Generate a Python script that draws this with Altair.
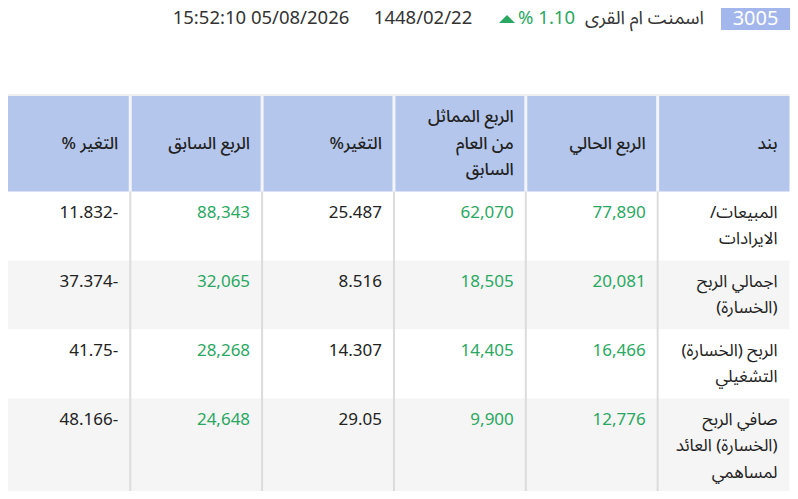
import altair as alt
import pandas as pd

# ---------------- data ----------------
ticker = "3005"
company = "اسمنت ام القرى"
change_pct = "% 1.10"
hijri_date = "1448/02/22"
timestamp = "15:52:10 05/08/2026"

# columns listed right-to-left (as read)
headers = ["بند", "الربع الحالي", "الربع المماثل\nمن العام\nالسابق", "التغير%", "الربع السابق", "التغير %"]
items = ["المبيعات/\nالايرادات", "اجمالي الربح\n(الخسارة)", "الربح (الخسارة)\nالتشغيلي",
         "صافي الربح\n(الخسارة) العائد\nلمساهمي\nالمصدر"]
current_q = ["77,890", "20,081", "16,466", "12,776"]
same_q_last_year = ["62,070", "18,505", "14,405", "9,900"]
change_yoy = ["25.487", "8.516", "14.307", "29.05"]
previous_q = ["88,343", "32,065", "28,268", "24,648"]
change_qoq = ["11.832-", "37.374-", "41.75-", "48.166-"]

# ---------------- layout ----------------
LINE_H = 26.5
PAD = 16
FONT = "Noto Sans, Noto Sans Arabic, Noto Sans Arabic UI, DejaVu Sans"
FS = 17
TFS = 18.5
DARK = "#222222"
GREEN = "#2aa862"
HEADER_BG = "#b4c6eb"
ALT_BG = "#f5f5f5"
NCOL = len(headers)
RLM = "\u200f"


def rtl(s):
    """Render each line as a right-to-left run inside the SVG text."""
    return "\n".join(RLM + line + RLM for line in s.split("\n"))


def nlines(s):
    return s.count("\n") + 1


header_top = 96
header_lines = max(nlines(h) for h in headers)
header_bottom = header_top + header_lines * LINE_H + PAD
header_mid = (header_top + header_bottom) / 2

columns = [items, current_q, same_q_last_year, change_yoy, previous_q, change_qoq]
kinds = ["label", "value", "value", "change", "value", "change"]

rows = []
cells = []
top = header_bottom
for r in range(len(items)):
    n = max(nlines(col[r]) for col in columns)
    bottom = top + n * LINE_H + PAD
    rows.append({"top": top, "bottom": bottom, "x0": 0, "x1": NCOL,
                 "shade": "alt" if r % 2 == 1 else "plain"})
    for ci, col in enumerate(columns):
        txt = rtl(col[r]) if kinds[ci] == "label" else col[r]
        cells.append({"col": NCOL - ci, "ytext": top + PAD / 2, "text": txt, "kind": kinds[ci]})
    top = bottom
table_bottom = top

rows_df = pd.DataFrame(rows)
cells_df = pd.DataFrame(cells)
head_df = pd.DataFrame({
    "col": [NCOL - i for i in range(NCOL)],
    "text": [rtl(h) for h in headers],
    "ytext": [header_mid - nlines(h) * LINE_H / 2 for h in headers],
})
head_bg_df = pd.DataFrame({"x0": [0], "x1": [NCOL], "top": [header_top], "bottom": [header_bottom]})
border_df = pd.DataFrame({"x0": [0], "x1": [NCOL], "y": [header_top - 1]})
sep_df = pd.DataFrame({"col": list(range(1, NCOL)), "top": header_top, "mid": header_bottom,
                       "bottom": table_bottom})

W, H = 782, 483
xs = alt.Scale(domain=[0, NCOL], range=[-9.6, 781.5], nice=False, zero=False)
ys = alt.Scale(domain=[8, 8 + H], range=[0, H], nice=False, zero=False)


def X(f):
    return alt.X(f, type="quantitative", scale=xs, axis=None)


def Y(f):
    return alt.Y(f, type="quantitative", scale=ys, axis=None)


row_bg = alt.Chart(rows_df).mark_rect().encode(
    x=X("x0"), x2="x1", y=Y("top"), y2="bottom",
    color=alt.Color("shade:N", scale=alt.Scale(domain=["plain", "alt"], range=["#ffffff", ALT_BG]), legend=None),
)
head_bg = alt.Chart(head_bg_df).mark_rect(color=HEADER_BG).encode(
    x=X("x0"), x2="x1", y=Y("top"), y2="bottom")
border = alt.Chart(border_df).mark_rule(color="#dedede", strokeWidth=1).encode(
    x=X("x0"), x2="x1", y=Y("y"))
sep_body = alt.Chart(sep_df).mark_rule(color="#dcdcdc", strokeWidth=2).encode(
    x=X("col"), y=Y("mid"), y2="bottom")
sep_head = alt.Chart(sep_df).mark_rule(color="#f3f5fb", strokeWidth=3).encode(
    x=X("col"), y=Y("top"), y2="mid")

head_text = alt.Chart(head_df).mark_text(
    align="right", baseline="line-top", dx=-12, font=FONT, fontSize=FS, fontWeight=500,
    color=DARK, lineBreak="\n", lineHeight=LINE_H,
).encode(x=X("col"), y=Y("ytext"), text="text:N")

body_text = alt.Chart(cells_df).mark_text(
    align="right", baseline="line-top", dx=-12, font=FONT, fontSize=FS,
    lineBreak="\n", lineHeight=LINE_H,
).encode(
    x=X("col"), y=Y("ytext"), text="text:N",
    color=alt.Color("kind:N", scale=alt.Scale(domain=["label", "value", "change"],
                                                range=[DARK, GREEN, DARK]), legend=None),
)

# ---- title strip ----
t_df = pd.DataFrame({"ticker": [ticker], "company": [rtl(company)], "chg": [change_pct],
                     "hijri": [hijri_date], "ts": [timestamp]})
base_t = alt.Chart(t_df)
TY = 9.5
badge = base_t.mark_rect(color="#a3b7ec").encode(
    x=alt.value(713), x2=alt.value(782), y=alt.value(0), y2=alt.value(22))
badge_text = base_t.mark_text(align="center", baseline="middle", font=FONT, fontSize=20,
                              color="#ffffff").encode(
    x=alt.value(747.5), y=alt.value(TY + 1), text="ticker:N")
comp_text = base_t.mark_text(align="right", baseline="middle", font=FONT, fontSize=TFS,
                             color="#333333").encode(
    x=alt.value(696), y=alt.value(TY), text="company:N")
chg_text = base_t.mark_text(align="right", baseline="middle", font=FONT, fontSize=TFS,
                            color=GREEN).encode(
    x=alt.value(567), y=alt.value(TY), text="chg:N")
tri = base_t.mark_point(shape="M-1,0.5L1,0.5L0,-0.5Z", filled=True, size=256,
                        color=GREEN, opacity=1).encode(
    x=alt.value(499), y=alt.value(TY + 1.5))
hijri_text = base_t.mark_text(align="center", baseline="middle", font=FONT, fontSize=TFS,
                              color="#333333").encode(
    x=alt.value(415), y=alt.value(TY), text="hijri:N")
ts_text = base_t.mark_text(align="center", baseline="middle", font=FONT, fontSize=TFS,
                           color="#333333").encode(
    x=alt.value(253), y=alt.value(TY), text="ts:N")

chart = alt.layer(
    row_bg, head_bg, border, sep_body, sep_head, head_text, body_text,
    badge, badge_text, comp_text, chg_text, tri, hijri_text, ts_text,
).resolve_scale(color="independent").properties(
    width=W, height=H, padding=0, autosize=alt.AutoSizeParams(type="none"),
    background="#ffffff",
).configure_view(stroke=None)

chart.save("out.html", embed_options={"renderer": "svg", "actions": False})
